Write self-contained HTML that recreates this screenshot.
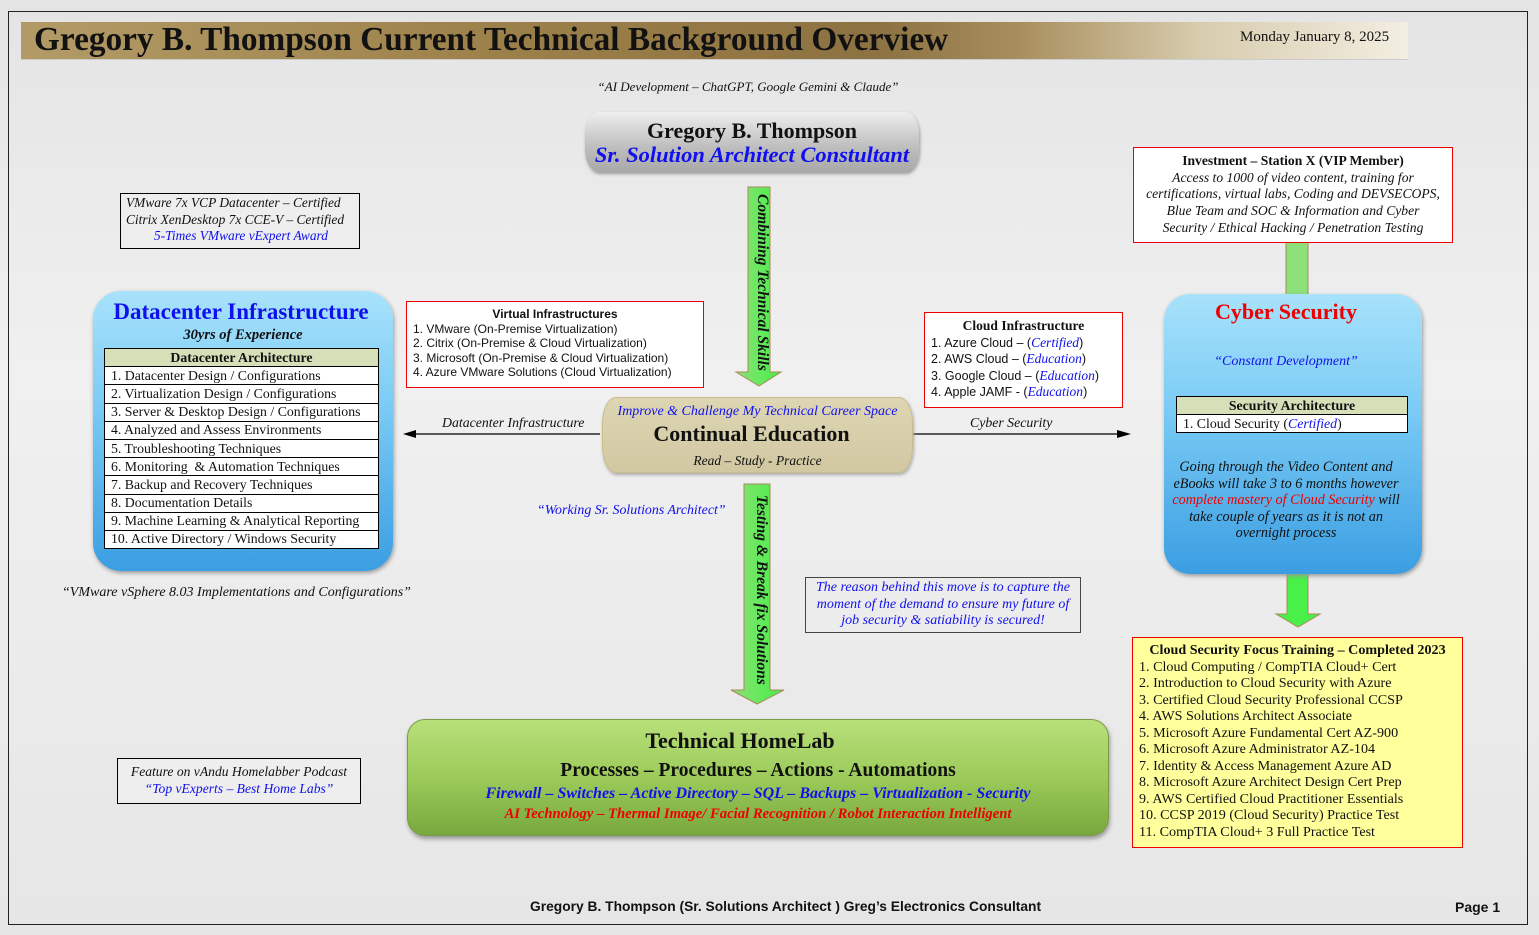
<!DOCTYPE html>
<html><head><meta charset="utf-8"><style>
*{margin:0;padding:0;box-sizing:border-box}
body{width:1539px;height:935px;position:relative;overflow:hidden;background:linear-gradient(180deg,#e4e4e4,#f0f0f0 40%,#e6e6e6);font-family:"Liberation Serif",serif;color:#111}
.a{position:absolute;white-space:nowrap}
.c{text-align:center}
.i{font-style:italic}
.b{font-weight:bold}
.blue{color:#1010ee}
.red{color:#ee0000}
.box{position:absolute;background:#fff;border:1px solid #e00}
.sans{font-family:"Liberation Sans",sans-serif}
table{border-collapse:collapse}
td{border:1px solid #000;background:#fff;font-size:13.8px;padding:0 6px;height:18.2px;line-height:16px}
</style></head><body>
<div class="a" style="left:8px;top:11px;width:1520px;height:914px;border:1px solid #222"></div>
<div class="a" style="left:21px;top:22px;width:1387px;height:38px;background:linear-gradient(90deg,#b39b67 0%,#9c8049 35%,#8d7242 62%,#a88f5e 72%,#d8ccae 85%,#f3eee2 100%);border-bottom:1px solid #ccc"></div>
<div class="a b" style="left:34px;top:21px;font-size:33.3px;line-height:38px">Gregory B. Thompson Current Technical Background Overview</div>
<div class="a" style="left:1240px;top:29px;font-size:15px">Monday January 8, 2025</div>

<div class="a i c" style="left:548px;width:400px;top:79px;font-size:13px">“AI Development – ChatGPT, Google Gemini &amp; Claude”</div>

<div class="a c" style="left:585px;top:112px;width:334px;height:60px;border-radius:14px/22px;background:linear-gradient(180deg,#eeeeee,#bdbdbd 60%,#a9a9a9);box-shadow:1px 2px 3px #999"></div>
<div class="a c b" style="left:585px;width:334px;top:118px;font-size:22px">Gregory B. Thompson</div>
<div class="a c b i blue" style="left:585px;width:334px;top:142px;font-size:22.5px">Sr. Solution Architect Constultant</div>

<svg class="a" style="left:0;top:0" width="1539" height="935">
<defs><linearGradient id="g" x1="0" x2="1"><stop offset="0" stop-color="#8ee07a"/><stop offset="1" stop-color="#44f044"/></linearGradient></defs>
<polygon points="748,187 770,187 770,372 781,372 759,386 736,372 748,372" fill="url(#g)" stroke="#a88a5a"/>
<polygon points="744,484 770,484 770,690 784,690 757,704 731,690 744,690" fill="url(#g)" stroke="#a88a5a"/>
<rect x="1286" y="242" width="22" height="54" fill="#8de07a" stroke="#a88a5a"/>
<polygon points="1287,572 1308,572 1308,614 1320,614 1298,627 1276,614 1287,614" fill="#48f048" stroke="#a88a5a"/>
<line x1="600" y1="434" x2="412" y2="434" stroke="#000" stroke-width="1.3"/>
<polygon points="403,434 416,430 416,438" fill="#000"/>
<line x1="913" y1="434" x2="1120" y2="434" stroke="#000" stroke-width="1.3"/>
<polygon points="1131,434 1117,430 1117,438" fill="#000"/>
</svg>
<div class="a b i" style="left:751px;top:194px;transform-origin:0 0;transform:rotate(90deg) translateY(-20px);font-size:15.5px;width:190px">Combining Technical Skills</div>
<div class="a b i" style="left:748px;top:495px;transform-origin:0 0;transform:rotate(90deg) translateY(-22px);font-size:15.5px;width:210px">Testing &amp; Break fix Solutions</div>

<div class="a" style="left:120px;top:193px;width:240px;height:56px;border:1px solid #000;background:#eee"></div>
<div class="a i" style="left:126px;top:195px;font-size:13.4px;line-height:16.5px">VMware 7x VCP Datacenter – Certified<br>Citrix XenDesktop 7x CCE-V – Certified<br><span class="blue" style="margin-left:28px">5-Times VMware vExpert Award</span></div>

<div class="a" style="left:93px;top:291px;width:300px;height:280px;border-radius:28px;background:linear-gradient(180deg,#a8e2fb,#7cccf5 40%,#3b9ee2);box-shadow:1px 2px 4px #999"></div>
<div class="a c b blue" style="left:93px;width:296px;top:299px;font-size:23px">Datacenter Infrastructure</div>
<div class="a c b i" style="left:93px;width:300px;top:327px;font-size:14.5px">30yrs of Experience</div>
<table class="a" style="left:104px;top:348px;width:275px">
<tr><td class="b c" style="background:#d6e0b8">Datacenter Architecture</td></tr>
<tr><td>1. Datacenter Design / Configurations</td></tr>
<tr><td>2. Virtualization Design / Configurations</td></tr>
<tr><td>3. Server &amp; Desktop Design / Configurations</td></tr>
<tr><td>4. Analyzed and Assess Environments</td></tr>
<tr><td>5. Troubleshooting Techniques</td></tr>
<tr><td>6. Monitoring &nbsp;&amp; Automation Techniques</td></tr>
<tr><td>7. Backup and Recovery Techniques</td></tr>
<tr><td>8. Documentation Details</td></tr>
<tr><td>9. Machine Learning &amp; Analytical Reporting</td></tr>
<tr><td>10. Active Directory / Windows Security</td></tr>
</table>

<div class="box sans" style="left:406px;top:301px;width:298px;height:87px;font-size:12px;line-height:14.6px;padding:5px 0 0 6px">
<div class="c b" style="margin-right:6px">Virtual Infrastructures</div>
1. VMware (On-Premise Virtualization)<br>2. Citrix (On-Premise &amp; Cloud Virtualization)<br>3. Microsoft (On-Premise &amp; Cloud Virtualization)<br>4. Azure VMware Solutions (Cloud Virtualization)</div>

<div class="a" style="left:602px;top:397px;width:311px;height:76px;border-radius:14px/26px;background:linear-gradient(180deg,#ded6b3,#d1c8a2);border:1px solid #c9bd8c;box-shadow:1px 2px 3px #aaa"></div>
<div class="a c i blue" style="left:602px;width:311px;top:404px;font-size:14px">Improve &amp; Challenge My Technical Career Space</div>
<div class="a c b" style="left:596px;width:311px;top:421px;font-size:22px">Continual Education</div>
<div class="a c i" style="left:602px;width:311px;top:453px;font-size:13.5px">Read – Study - Practice</div>

<div class="a i" style="left:442px;top:415px;font-size:13.8px">Datacenter Infrastructure</div>
<div class="a i" style="left:970px;top:415px;font-size:13.8px">Cyber Security</div>

<div class="box" style="left:924px;top:312px;width:199px;height:96px;font-size:13.5px;line-height:16.6px;padding:5px 0 0 6px">
<div class="c b" style="margin-right:6px">Cloud Infrastructure</div>
<span class="sans" style="font-size:12.5px">1. Azure Cloud – (<i class="blue" style="font-family:'Liberation Serif';font-size:13.5px">Certified</i>)<br>2. AWS Cloud – (<i class="blue" style="font-family:'Liberation Serif';font-size:13.5px">Education</i>)<br>3. Google Cloud – (<i class="blue" style="font-family:'Liberation Serif';font-size:13.5px">Education</i>)<br>4. Apple JAMF - (<i class="blue" style="font-family:'Liberation Serif';font-size:13.5px">Education</i>)</span></div>

<div class="a i blue" style="left:537px;top:503px;font-size:13.9px">“Working Sr. Solutions Architect”</div>

<div class="a c i blue" style="left:805px;top:577px;width:276px;height:56px;border:1px solid #444;background:#ececec;font-size:14px;line-height:16.5px;padding-top:2px">The reason behind this move is to capture the<br>moment of the demand to ensure my future of<br>job security &amp; satiability is secured!</div>

<div class="box c" style="left:1133px;top:147px;width:320px;height:96px;font-size:13.6px;line-height:16.7px;padding-top:5px">
<b>Investment – Station X (VIP Member)</b><br><i>Access to 1000 of video content, training for<br>certifications, virtual labs, Coding and DEVSECOPS,<br>Blue Team and SOC &amp; Information and Cyber<br>Security / Ethical Hacking / Penetration Testing</i></div>

<div class="a" style="left:1164px;top:294px;width:258px;height:280px;border-radius:26px;background:linear-gradient(180deg,#a8e2fb,#7cccf5 40%,#3b9ee2);box-shadow:1px 2px 4px #999"></div>
<div class="a c b red" style="left:1157px;width:258px;top:299px;font-size:22px">Cyber Security</div>
<div class="a c i blue" style="left:1157px;width:258px;top:354px;font-size:14px">“Constant Development”</div>
<table class="a" style="left:1176px;top:396px;width:232px">
<tr><td class="b c" style="background:#d6e0b8">Security Architecture</td></tr>
<tr><td>1. Cloud Security (<i class="blue">Certified</i>)</td></tr>
</table>
<div class="a c i" style="left:1157px;width:258px;top:459px;font-size:14.2px;line-height:16.5px">Going through the Video Content and<br>eBooks will take 3 to 6 months however<br><span class="red">complete mastery of Cloud Security</span> will<br>take couple of years as it is not an<br>overnight process</div>

<div class="box" style="left:1132px;top:637px;width:331px;height:211px;background:#ffff9c;font-size:14.1px;line-height:16.5px;padding:4px 0 0 6px">
<div class="c b" style="margin-right:6px">Cloud Security Focus Training – Completed 2023</div>
1. Cloud Computing / CompTIA Cloud+ Cert<br>2. Introduction to Cloud Security with Azure<br>3. Certified Cloud Security Professional CCSP<br>4. AWS Solutions Architect Associate<br>5. Microsoft Azure Fundamental Cert AZ-900<br>6. Microsoft Azure Administrator AZ-104<br>7. Identity &amp; Access Management Azure AD<br>8. Microsoft Azure Architect Design Cert Prep<br>9. AWS Certified Cloud Practitioner Essentials<br>10. CCSP 2019 (Cloud Security) Practice Test<br>11. CompTIA Cloud+ 3 Full Practice Test</div>

<div class="a i" style="left:62px;top:585px;font-size:14px">“VMware vSphere 8.03 Implementations and Configurations”</div>

<div class="a c i" style="left:117px;top:758px;width:244px;height:46px;border:1px solid #000;background:#eee;font-size:13.6px;line-height:16.5px;padding-top:5px">Feature on vAndu Homelabber Podcast<br><span class="blue">“Top vExperts – Best Home Labs”</span></div>

<div class="a" style="left:407px;top:719px;width:702px;height:117px;border-radius:18px;background:linear-gradient(180deg,#b8e07a,#9ccb5a 50%,#78a83e);border:1px solid #7a9a48;box-shadow:1px 3px 4px #999"></div>
<div class="a c b" style="left:389px;width:702px;top:728px;font-size:22px">Technical HomeLab</div>
<div class="a c b" style="left:407px;width:702px;top:760px;font-size:19.5px">Processes – Procedures – Actions - Automations</div>
<div class="a c b i blue" style="left:407px;width:702px;top:785px;font-size:16px">Firewall – Switches – Active Directory – SQL – Backups – Virtualization - Security</div>
<div class="a c b i red" style="left:407px;width:702px;top:806px;font-size:14.7px">AI Technology – Thermal Image/ Facial Recognition / Robot Interaction Intelligent</div>

<div class="a b sans" style="left:530px;top:899px;font-size:13.8px">Gregory B. Thompson (Sr. Solutions Architect ) Greg’s Electronics Consultant</div>
<div class="a b sans" style="left:1455px;top:899px;font-size:14px">Page 1</div>
</body></html>
